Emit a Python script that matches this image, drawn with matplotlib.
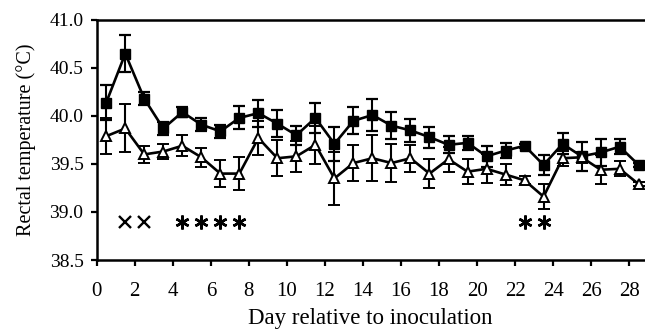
#!/usr/bin/env python3
"""Rectal temperature by day relative to inoculation."""

import matplotlib
matplotlib.use("Agg")
import matplotlib.pyplot as plt
import numpy as np

days = np.arange(0.5, 29.0, 1.0)

square_mean = [40.14, 40.65, 40.18, 39.87, 40.04, 39.91, 39.84, 39.98, 40.03, 39.92,
               39.80, 39.98, 39.71, 39.95, 40.01, 39.90, 39.85, 39.78, 39.70, 39.72,
               39.58, 39.64, 39.69, 39.49, 39.71, 39.58, 39.62, 39.68, 39.49]
square_err = [0.18, 0.19, 0.07, 0.07, 0.05, 0.07, 0.07, 0.12, 0.14, 0.14,
              0.10, 0.16, 0.18, 0.14, 0.17, 0.14, 0.12, 0.11, 0.09, 0.07,
              0.11, 0.08, 0.02, 0.10, 0.11, 0.15, 0.14, 0.08, 0.02]

triangle_mean = [39.79, 39.87, 39.60, 39.63, 39.69, 39.57, 39.40, 39.40, 39.77, 39.56,
                 39.58, 39.70, 39.35, 39.51, 39.56, 39.51, 39.56, 39.40, 39.55, 39.42,
                 39.45, 39.39, 39.33, 39.16, 39.56, 39.57, 39.44, 39.45, 39.29]
triangle_err = [0.19, 0.25, 0.09, 0.08, 0.11, 0.10, 0.14, 0.17, 0.18, 0.19,
                0.16, 0.20, 0.28, 0.19, 0.24, 0.20, 0.14, 0.15, 0.13, 0.13,
                0.15, 0.11, 0.04, 0.13, 0.08, 0.06, 0.15, 0.08, 0.02]

cross_days = [1.5, 2.5]
star_days = [4.5, 5.5, 6.5, 7.5, 22.5, 23.5]
sig_level = 38.9

plt.rcParams.update({
    "font.family": "Liberation Serif",
    "font.size": 14,
})

fig = plt.figure(figsize=(6.45, 3.31), dpi=100)
ax = fig.add_axes([0.150, 0.2145, 0.849, 0.7251])

ax.errorbar(days, square_mean, yerr=square_err, color="black", marker="s",
            markersize=7, linewidth=1.9, elinewidth=1.5, capsize=4,
            capthick=1.6, zorder=3)
ax.errorbar(days, triangle_mean, yerr=triangle_err, color="black", marker="^",
            markersize=6.5, markerfacecolor="white", markeredgewidth=1.4,
            linewidth=1.9, elinewidth=1.5, capsize=4, capthick=1.6, zorder=3)

ax.plot(cross_days, [sig_level] * len(cross_days), linestyle="none", marker="x",
        markersize=9, markeredgewidth=1.7, color="black")
ax.plot(star_days, [sig_level] * len(star_days), linestyle="none", marker=(6, 2, 0),
        markersize=10, markeredgewidth=1.8, color="black")

ax.set_xlim(0, 28.8)
ax.set_ylim(38.5, 41.0)
ax.set_xticks(np.arange(0, 29, 2))
ax.set_yticks(np.arange(38.5, 41.01, 0.5))
ax.set_yticklabels([f"{v:.1f}" for v in np.arange(38.5, 41.01, 0.5)])
ax.tick_params(direction="out", length=4.5, width=1.6, labelsize=14, pad=5)
ax.tick_params(axis="x", labelsize=15, pad=11.5)
ax.spines["right"].set_visible(False)
for side in ("left", "bottom", "top"):
    ax.spines[side].set_linewidth(1.8)

ax.set_xlabel("Day relative to inoculation", fontsize=16.5, labelpad=5)
ax.set_ylabel("Rectal temperature (°C)", fontsize=14.5, labelpad=10)

fig.savefig("out.png", dpi=100)
